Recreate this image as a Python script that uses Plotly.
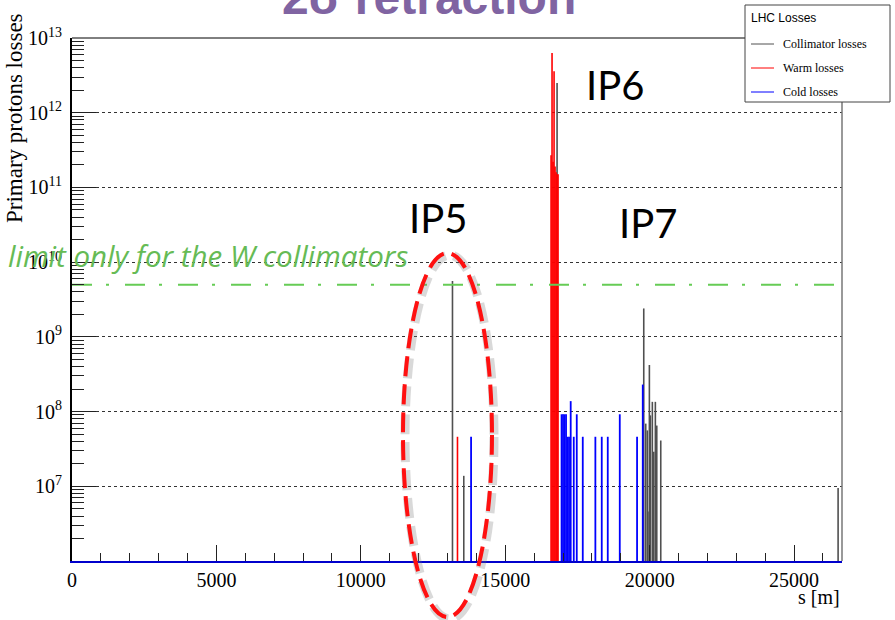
import plotly.graph_objects as go

# Loss map along the LHC ring: position s [m] and primary-proton losses
coll_s = [13173, 13564, 16794, 19795, 19864, 19920, 19940, 19990, 20024,
          20093, 20141, 20197, 20246, 20384, 26524]
coll_loss = [5.6e9, 1.38e7, 2.5e12, 2.4e9, 6.9e7, 5.6e7, 4.6e6, 4.2e8, 8.9e7,
             1.35e8, 2.9e7, 1.35e8, 6.5e7, 4.1e7, 9.5e6]

warm_s = [13346, 16586, 16620, 16655, 16690, 16724, 16759, 16794, 16828]
warm_loss = [4.6e7, 2.7e11, 6.3e12, 2.2e11, 3.6e12, 1.9e11, 1.6e11, 1.5e11, 1.5e11]

cold_s = [13817, 16950, 17000, 17050, 17105, 17157, 17209, 17266, 17372,
          17476, 17684, 18120, 18341, 18549, 18965, 19564, 19761]
cold_loss = [4.6e7, 9.2e7, 9.2e7, 9.2e7, 9.2e7, 4.6e7, 4.6e7, 1.38e8, 4.6e7,
             9.2e7, 4.6e7, 4.6e7, 4.6e7, 4.6e7, 9.2e7, 4.6e7, 2.3e8]

series_names = ["Collimator losses", "Warm losses", "Cold losses"]
series_colors = ["#505050", "#ff0000", "#0000ff"]

ring_length = 26659
w_limit = 5e9
y_floor = 1e6
decades = list(range(7, 14))
x_ticks = [0, 5000, 10000, 15000, 20000, 25000]

SERIF = "Liberation Serif"
SANS = "Liberation Sans"
CAL = "Lato"

# plot frame in pixels
L, R, T, B = 72, 842, 38, 561
W, H = 895, 620


def px(p):
    return (p - L) / (R - L)


def py(p):
    return (B - p) / (B - T)


def spikes(s_list, v_list):
    xs, ys = [], []
    for s, v in zip(s_list, v_list):
        xs += [s, s, None]
        ys += [y_floor, v, None]
    return xs, ys


fig = go.Figure()

for name, s_list, v_list, color, width in zip(
        series_names, [coll_s, warm_s, cold_s], [coll_loss, warm_loss, cold_loss],
        series_colors, [1.6, 1.6, 1.8]):
    xs, ys = spikes(s_list, v_list)
    fig.add_trace(go.Scatter(
        x=xs, y=ys, mode="lines", name=name, showlegend=False,
        line=dict(color=color, width=width), hoverinfo="skip"))

# limit for the W collimators
fig.add_trace(go.Scatter(
    x=[0, ring_length], y=[w_limit, w_limit], mode="lines", showlegend=False,
    line=dict(color="#66cc55", width=2, dash="20px,14px,3px,16px"),
    hoverinfo="skip"))

minor_vals = [m * 10 ** e for e in range(6, 13) for m in range(2, 10)]

fig.update_layout(
    width=W, height=H,
    margin=dict(l=L, r=W - R, t=T, b=H - B, pad=0, autoexpand=False),
    paper_bgcolor="white", plot_bgcolor="white",
    font=dict(family=SERIF, color="black"),
    showlegend=False,
    xaxis=dict(
        range=[0, ring_length], showgrid=False, zeroline=False,
        showline=True, linecolor="#0000cc", linewidth=1.5,
        tickmode="array", tickvals=x_ticks, ticktext=[str(v) for v in x_ticks],
        ticks="inside", ticklen=16, tickcolor="#222", tickwidth=1,
        tickfont=dict(family=SERIF, size=20, color="black"),
        ticklabelstandoff=0,
        minor=dict(ticks="inside", ticklen=8, dtick=1000, tickcolor="#222",
                   showgrid=False),
    ),
    yaxis=dict(
        type="log", range=[6, 13], zeroline=False,
        showline=True, linecolor="black", linewidth=2,
        tickmode="array", tickvals=[10 ** e for e in decades],
        ticktext=["10<sup>%d</sup>" % e for e in decades],
        ticks="inside", ticklen=24, tickcolor="#222", tickwidth=1,
        tickfont=dict(family=SERIF, size=20, color="black"),
        ticklabelstandoff=4,
        showgrid=True, gridcolor="#333", griddash="dot", gridwidth=1,
        minor=dict(ticks="inside", ticklen=12, tickvals=minor_vals,
                   tickcolor="#222", showgrid=False),
    ),
)

shapes = [
    # top and right frame lines
    dict(type="line", xref="paper", yref="paper", x0=0, x1=1, y0=1, y1=1,
         line=dict(color="black", width=1)),
    dict(type="line", xref="paper", yref="paper", x0=1, x1=1, y0=0, y1=1,
         line=dict(color="#777", width=1.5)),
    # highlighted IP5 region: soft shadow then dashed red ellipse
    dict(type="circle", xref="paper", yref="paper",
         x0=px(405), x1=px(494), y0=py(619), y1=py(255),
         line=dict(color="rgba(120,120,120,0.28)", width=9, dash="20px,8px")),
    dict(type="circle", xref="paper", yref="paper",
         x0=px(403), x1=px(492), y0=py(617), y1=py(253),
         line=dict(color="#ff1010", width=4, dash="20px,8px")),
    # legend box
    dict(type="rect", xref="paper", yref="paper",
         x0=px(745), x1=px(890), y0=py(102), y1=py(5),
         fillcolor="white", line=dict(color="#444", width=1)),
]

annotations = [
    dict(text="<b>2σ retraction</b>", x=px(429), y=py(26), xanchor="center", yanchor="bottom",
         font=dict(family=SANS, size=48, color="#8064a2")),
    dict(text="Primary protons losses", x=px(15), y=py(118), textangle=-90,
         xanchor="center", yanchor="middle",
         font=dict(family=SERIF, size=23, color="black")),
    dict(text="s [m]", x=1, y=py(597), xanchor="right", yanchor="middle",
         font=dict(family=SERIF, size=20, color="black")),
    dict(text="IP5", x=px(438), y=py(218), xanchor="center", yanchor="middle",
         font=dict(family=CAL, size=40, color="black")),
    dict(text="IP6", x=px(615), y=py(85), xanchor="center", yanchor="middle",
         font=dict(family=CAL, size=40, color="black")),
    dict(text="IP7", x=px(648), y=py(223), xanchor="center", yanchor="middle",
         font=dict(family=CAL, size=40, color="black")),
    dict(text="<i>limit only for the W collimators</i>", x=px(6), y=py(255),
         xanchor="left", yanchor="middle",
         font=dict(family="Open Sans", size=29.5, color="#66bb55")),
    dict(text="LHC Losses", x=px(749), y=py(18), xanchor="left", yanchor="middle",
         font=dict(family=SANS, size=12, color="black")),
]

# legend entries
for i, (name, color) in enumerate(zip(series_names, series_colors)):
    yy = py(44 + 24 * i)
    shapes.append(dict(type="line", xref="paper", yref="paper",
                       x0=px(751), x1=px(774), y0=yy, y1=yy,
                       line=dict(color=color, width=1)))
    annotations.append(dict(text=name, x=px(781), y=yy, xanchor="left", yanchor="middle",
                            font=dict(family=SERIF, size=12, color="black")))

for a in annotations:
    a.update(xref="paper", yref="paper", showarrow=False)

fig.update_layout(shapes=shapes, annotations=annotations)

fig.write_html("out.html")
